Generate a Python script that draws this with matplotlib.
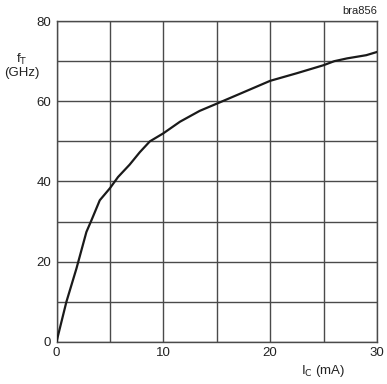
import matplotlib.pyplot as plt

# collector current (mA) and transition frequency (GHz)
ic_ma = [0, 0.93, 1.87, 2.8, 3.27, 4.05, 5.0, 5.76, 6.85, 7.8, 8.74, 10,
         11.56, 13.4, 15, 17.2, 20, 22.5, 25, 26, 27.2, 29, 30]
ft_ghz = [0, 10, 18.3, 27.4, 30.3, 35.3, 38.3, 41.1, 44.2, 47.3, 50, 52,
          54.9, 57.6, 59.4, 61.9, 65.1, 67, 69, 70, 70.7, 71.5, 72.3]

x_ticks = [0, 10, 20, 30]
y_ticks = [0, 20, 40, 60, 80]

plt.rcParams['font.family'] = ['Liberation Sans', 'DejaVu Sans']

fig = plt.figure(figsize=(3.87, 3.84), dpi=100)
ax = fig.add_axes([0.146, 0.110, 0.828, 0.835])

ax.plot(ic_ma, ft_ghz, color='#1a1a1a', linewidth=1.6, zorder=3)

ax.set_xlim(0, 30)
ax.set_ylim(0, 80)
ax.set_xticks(x_ticks)
ax.set_yticks(y_ticks)
ax.set_xticks(range(0, 31, 5), minor=True)
ax.set_yticks(range(0, 81, 10), minor=True)
ax.grid(True, which='both', color='#4a4a4a', linewidth=1.0)
ax.tick_params(which='both', length=0, labelsize=9.5, pad=4,
               labelcolor='#222222')
for s in ax.spines.values():
    s.set_color('#4a4a4a')
    s.set_linewidth(1.0)

fig.text(0.057, 0.83, 'f$_\\mathrm{T}$\n(GHz)', ha='center', va='center',
         fontsize=9.5, linespacing=1.0, color='#222222')
fig.text(0.835, 0.035, 'I$_\\mathrm{C}$ (mA)', ha='center', va='center',
         fontsize=9.5, color='#222222')
fig.text(0.974, 0.972, 'bra856', ha='right', va='center', fontsize=8,
         color='#222222')

fig.savefig('out.png', dpi=100)
